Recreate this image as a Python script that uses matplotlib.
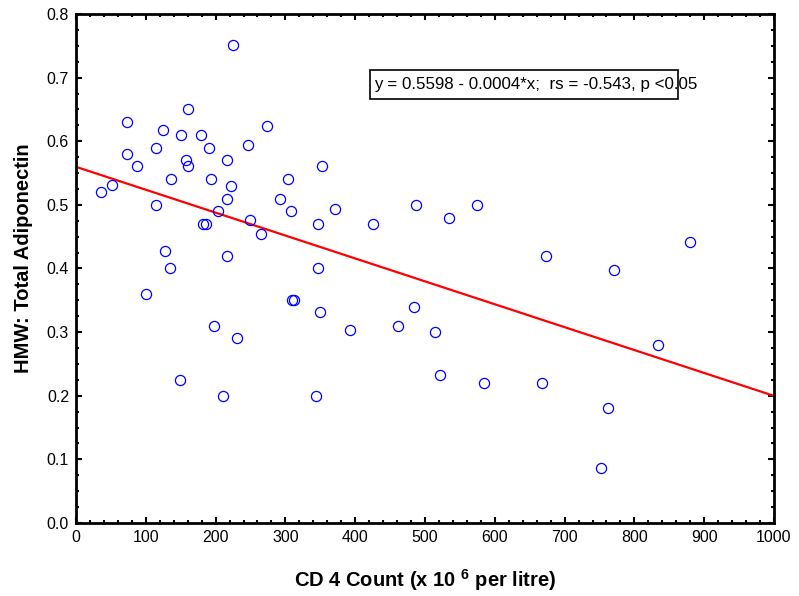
import numpy as np
import matplotlib.pyplot as plt
from matplotlib.patches import Rectangle
from matplotlib.ticker import MultipleLocator

plt.rcParams['font.family'] = ['Liberation Sans', 'DejaVu Sans']
plt.rcParams['mathtext.fontset'] = 'custom'
plt.rcParams['mathtext.bf'] = 'Liberation Sans:bold'
plt.rcParams['mathtext.rm'] = 'Liberation Sans'

# CD4 count vs HMW total adiponectin
cd4 = [36, 52, 73, 73, 87, 115, 115, 124, 136, 127, 134, 151, 158, 161, 161,
       179, 191, 194, 182, 186, 204, 216, 216, 222, 216, 225, 246, 249, 265,
       274, 292, 304, 308, 347, 352, 347, 371, 426, 487, 535, 575, 673, 771,
       880, 100, 149, 198, 210, 231, 310, 313, 350, 344, 392, 462, 484, 515,
       521, 585, 667, 762, 752, 834]
adiponectin = [0.520, 0.531, 0.630, 0.580, 0.561, 0.590, 0.500, 0.617, 0.540,
               0.427, 0.400, 0.610, 0.570, 0.561, 0.651, 0.610, 0.590, 0.540,
               0.470, 0.470, 0.490, 0.570, 0.510, 0.530, 0.420, 0.751, 0.594,
               0.477, 0.454, 0.624, 0.510, 0.540, 0.490, 0.470, 0.561, 0.400,
               0.493, 0.470, 0.500, 0.480, 0.500, 0.420, 0.397, 0.441, 0.360,
               0.224, 0.310, 0.200, 0.290, 0.350, 0.350, 0.331, 0.200, 0.303,
               0.310, 0.340, 0.300, 0.233, 0.220, 0.220, 0.180, 0.087, 0.280]

intercept = 0.5598
slope = -0.00036
fit_x = np.array([0, 1000])

fig = plt.figure(figsize=(7.99, 5.96), dpi=100)
ax = fig.add_axes([0.0951, 0.1225, 0.8736, 0.854])

ax.plot(fit_x, intercept + slope * fit_x, color='#ff0000', lw=1.6, zorder=2)
ax.plot(cd4, adiponectin, 'o', mfc='none', mec='#0000ff', mew=0.9,
        ms=7.3, ls='none', zorder=3, clip_on=False)

ax.set_xlim(0, 1000)
ax.set_ylim(0, 0.8)
ax.xaxis.set_major_locator(MultipleLocator(100))
ax.xaxis.set_minor_locator(MultipleLocator(20))
ax.yaxis.set_major_locator(MultipleLocator(0.1))
ax.yaxis.set_minor_locator(MultipleLocator(0.025))
ax.yaxis.set_major_formatter(plt.FormatStrFormatter('%.1f'))
ax.tick_params(which='both', direction='in', top=True, right=True,
               labelsize=11.5, width=1.5, color='black')
ax.tick_params(which='major', length=4, pad=5)
ax.tick_params(which='minor', length=2.5)
for s in ax.spines.values():
    s.set_linewidth(2)

ax.set_xlabel(r'CD 4 Count (x 10 $^{\mathbf{6}}$ per litre)', fontsize=14.5,
              fontweight='bold', labelpad=16)
ax.set_ylabel('HMW: Total Adiponectin', fontsize=14.5, fontweight='bold')
ax.yaxis.set_label_coords(-0.061, 0.52)

# regression annotation box (text overruns the box as in the source)
ax.add_patch(Rectangle((0.421, 0.8325), 0.441, 0.057, transform=ax.transAxes,
                       fill=False, ec='black', lw=1.2, zorder=4))
ax.text(0.427, 0.861, 'y = 0.5598 - 0.0004*x;  rs = -0.543, p <0.05',
        transform=ax.transAxes, fontsize=12.2, va='center', ha='left', zorder=5)

fig.savefig('out.png', dpi=100)
